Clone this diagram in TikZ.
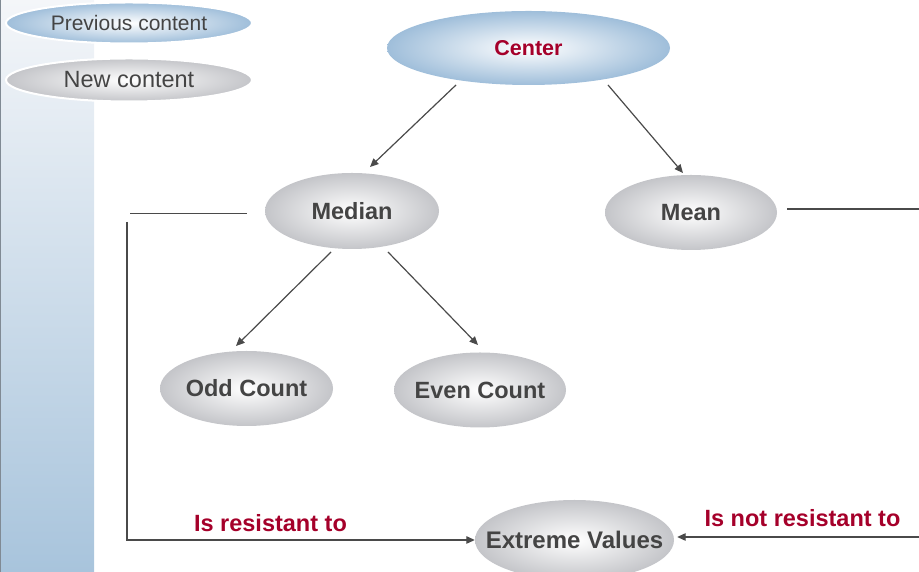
\documentclass[tikz,border=0pt]{standalone}
\usepackage{fontspec}
\setmainfont{Liberation Sans}
\usetikzlibrary{arrows.meta,calc,shapes.geometric}
\definecolor{txtgray}{HTML}{444444}
\definecolor{lblred}{HTML}{A5002A}
\definecolor{edgegray}{HTML}{C4C5C9}
\definecolor{edgeblue}{HTML}{9FBEDA}
\definecolor{linegray}{HTML}{4A4A4A}
\definecolor{sidetop}{HTML}{F4F6F9}
\definecolor{sidebot}{HTML}{A8C4DC}
\definecolor{sideline}{HTML}{808A94}
\begin{document}
\begin{tikzpicture}[x=1pt,y=1pt,
  grayell/.style={ellipse, inner sep=0pt, inner color=white, outer color=edgegray,
    font=\fontsize{23.5}{26}\selectfont\bfseries, text=txtgray},
  blueell/.style={ellipse, inner sep=0pt, inner color=white, outer color=edgeblue},
  conn/.style={draw=linegray, line width=1.2pt},
  arr/.style={conn, -{Triangle[length=8.5pt,width=7.5pt]}},
  lbl/.style={font=\fontsize{23.5}{26}\selectfont\bfseries, text=lblred, anchor=base, inner sep=0pt}
]
\useasboundingbox (0,0) rectangle (919,572);
% side bar
\shade[top color=sidetop, bottom color=sidebot] (0,0) rectangle (94,572);
\draw[draw=sideline, line width=1pt] (0.5,0) -- (0.5,572);

% legend
\node[blueell, minimum width=246pt, minimum height=41pt, draw=white, line width=2pt,
  font=\fontsize{21}{24}\selectfont, text=txtgray] (prev) at (129,549) {Previous content};
\node[grayell, minimum width=246pt, minimum height=43pt, draw=white, line width=2pt,
  font=\fontsize{23.5}{26}\selectfont] (new) at (129,492) {New content};

% concept nodes
\node[blueell, minimum width=283pt, minimum height=74pt,
  font=\fontsize{21.5}{24}\selectfont\bfseries, text=lblred] (c) at (528.5,524) {Center};
\node[grayell, minimum width=174pt, minimum height=76pt] (md) at (352,361) {\makebox[0pt]{Median}};
\node[grayell, minimum width=172pt, minimum height=75pt] (mn) at (691,359.5) {\makebox[0pt]{Mean}};
\node[grayell, minimum width=173pt, minimum height=75pt] (odd) at (246.5,183.5) {\makebox[0pt]{Odd Count}};
\node[grayell, minimum width=172pt, minimum height=75pt] (even) at (480,182) {\makebox[0pt]{Even Count}};
\node[grayell, minimum width=199pt, minimum height=80pt,
  font=\fontsize{24}{26}\selectfont\bfseries] (ev) at (574.5,32) {\makebox[0pt]{Extreme Values}};

% arrows
\draw[arr] ($(c)+(-72.5,-37)$) -- ($(md)+(18,44)$);
\draw[arr] ($(c)+(79.5,-37)$) -- ($(mn)+(-8,39.5)$);
\draw[arr] ($(md)+(-21,-41)$) -- ($(odd)+(-10.5,42.5)$);
\draw[arr] ($(md)+(36,-41)$) -- ($(even)+(-2,45)$);

% side connectors
\coordinate (lt) at (130,358.5);
\draw[conn] (lt) -- ($(md)+(-105,-2.5)$);
\coordinate (vt) at (127,350);
\draw[arr] (vt) |- (ev.west);
\coordinate (rt) at (919,363);
\draw[conn] ($(mn)+(96,3.5)$) -- (rt);
\coordinate (rb) at (919,35);
\draw[arr] (rb) -- ($(ev.east)+(3,3)$);

% labels
\node[lbl] (l1) at (270.5,40) {Is resistant to};
\node[lbl] (l2) at (802.5,45) {Is not resistant to};
\end{tikzpicture}
\end{document}
